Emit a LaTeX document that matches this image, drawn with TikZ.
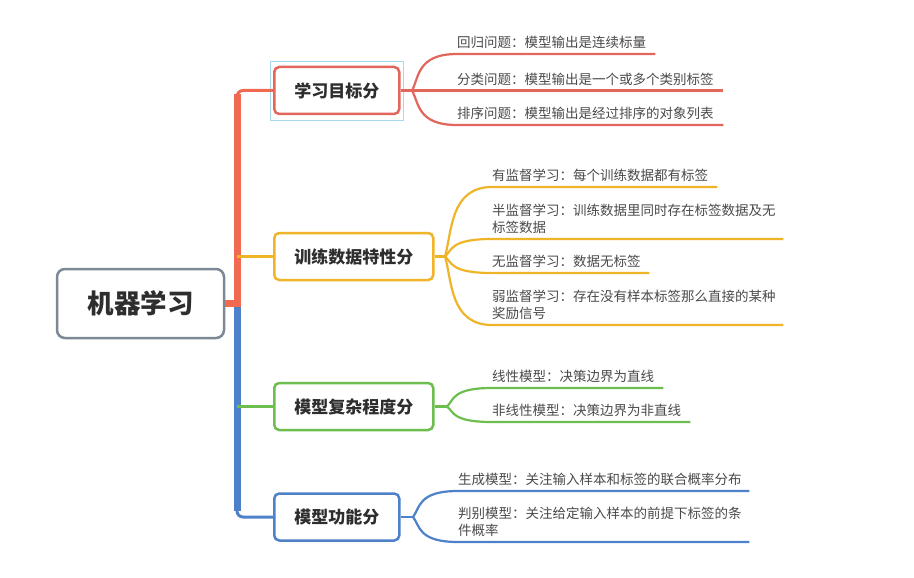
\documentclass[tikz,border=0pt]{standalone}
\usepackage{fontspec}
\setmainfont{Noto Sans CJK SC}
\usetikzlibrary{calc}
\definecolor{cRed}{HTML}{E2665B}
\definecolor{cTrunkRed}{HTML}{F06A52}
\definecolor{cYel}{HTML}{F0B429}
\definecolor{cGrn}{HTML}{6DBE4E}
\definecolor{cBlu}{HTML}{4D82CB}
\definecolor{cGray}{HTML}{7D8895}
\definecolor{cSel}{HTML}{A6D8F0}
\definecolor{cTxt}{HTML}{2E2E2E}
\definecolor{cLeaf}{HTML}{4A4A4A}
\newcommand\lfcurve[3]{\draw[branch=#1] (#2) .. controls ($(#2)!0.35!(#2 |- #3.south west)+(7,0)$) and ($(#2 |- #3.south west)+(5,0)$) .. (#3.south west) -- (#3.south east);}
\begin{document}
\begin{tikzpicture}[x=1pt,y=-1pt,
 catbox/.style={draw=#1, line width=2.5pt, rounded corners=5pt, fill=white, minimum height=47pt, inner xsep=20pt, anchor=west, font=\fontsize{17}{20}\selectfont\bfseries, text=cTxt},
 leaf/.style={anchor=south west, inner xsep=0pt, inner ysep=5pt, align=left, text width=#1, font=\fontsize{13.5}{17}\selectfont, text=cLeaf},
 branch/.style={draw=#1, line width=2.2pt},
 trunk/.style={draw=#1, line width=7pt},
]
\fill[white] (0,0) rectangle (914,578);
\useasboundingbox (0,0) rectangle (914,578);

% root
\node[draw=cGray, line width=2.5pt, rounded corners=8pt, minimum width=167pt, minimum height=69pt,
  font=\fontsize{26.5}{30}\selectfont\bfseries, text=cTxt] (root) at (140.5,303.5) {机器学习};

% categories
\node[catbox=cRed] (c1) at (273,90.5) {学习目标分};
\node[catbox=cYel] (c2) at (273,256.5) {训练数据特性分};
\node[catbox=cGrn] (c3) at (273,406.5) {模型复杂程度分};
\node[catbox=cBlu] (c4) at (273,517) {模型功能分};
\draw[cSel, line width=1pt] ([xshift=-3pt,yshift=4pt]c1.north west) rectangle ([xshift=3pt,yshift=-5pt]c1.south east);

% trunk
\coordinate (ttop) at (237,94);
\coordinate (tmid) at (237,307);
\coordinate (tbot) at (237,511);
\draw[trunk=cBlu, line cap=butt] (tmid) -- (tbot);
\draw[trunk=cTrunkRed, line cap=butt] (tmid) -- (ttop);
\draw[trunk=cTrunkRed, line cap=butt] (root.east) -- ([xshift=3.5pt]root.east -| tmid);
\draw[branch=cTrunkRed, line width=3pt, rounded corners=6pt] ([yshift=-8pt]c1.west -| ttop) -- (c1.west -| ttop) -- (c1.west);
\draw[branch=cBlu, line width=3pt, rounded corners=6pt] ([yshift=8pt]c4.west -| tbot) -- (c4.west -| tbot) -- (c4.west);
\draw[branch=cYel, line width=2.5pt] (c2.west -| tmid) -- (c2.west);
\draw[branch=cGrn, line width=2.5pt] (c3.west -| tmid) -- (c3.west);

% branch 1 leaves
\node[leaf=198pt] (r1) at (457,54) {回归问题：模型输出是连续标量};
\node[leaf=266pt] (r2) at (457,90.5) {分类问题：模型输出是一个或多个类别标签};
\node[leaf=266pt] (r3) at (457,125) {排序问题：模型输出是经过排序的对象列表};
\coordinate (f1) at (412,90.5);
\draw[branch=cRed] (c1.east) -- (f1);
\lfcurve{cRed}{f1}{r1}
\draw[branch=cRed] (f1) -- (r2.south west) -- (r2.south east);
\lfcurve{cRed}{f1}{r3}

% branch 2 leaves
\node[leaf=225pt] (y1) at (492,187) {有监督学习：每个训练数据都有标签};
\node[leaf=291pt] (y2) at (492,239) {半监督学习：训练数据里同时存在标签数据及无\\标签数据};
\node[leaf=157pt] (y3) at (492,273) {无监督学习：数据无标签};
\node[leaf=291pt] (y4) at (492,325) {弱监督学习：存在没有样本标签那么直接的某种\\奖励信号};
\coordinate (f2) at (445,256.5);
\draw[branch=cYel] (c2.east) -- (f2);
\lfcurve{cYel}{f2}{y1}
\lfcurve{cYel}{f2}{y2}
\lfcurve{cYel}{f2}{y3}
\lfcurve{cYel}{f2}{y4}

% branch 3 leaves
\node[leaf=171pt] (g1) at (492,388) {线性模型：决策边界为直线};
\node[leaf=198pt] (g2) at (492,422) {非线性模型：决策边界为非直线};
\coordinate (f3) at (447,406.5);
\draw[branch=cGrn] (c3.east) -- (f3);
\lfcurve{cGrn}{f3}{g1}
\lfcurve{cGrn}{f3}{g2}

% branch 4 leaves
\node[leaf=291pt] (b1) at (458,491) {生成模型：关注输入样本和标签的联合概率分布};
\node[leaf=291pt] (b2) at (458,542) {判别模型：关注给定输入样本的前提下标签的条\\件概率};
\coordinate (f4) at (413,517);
\draw[branch=cBlu] (c4.east) -- (f4);
\lfcurve{cBlu}{f4}{b1}
\lfcurve{cBlu}{f4}{b2}
\end{tikzpicture}
\end{document}
